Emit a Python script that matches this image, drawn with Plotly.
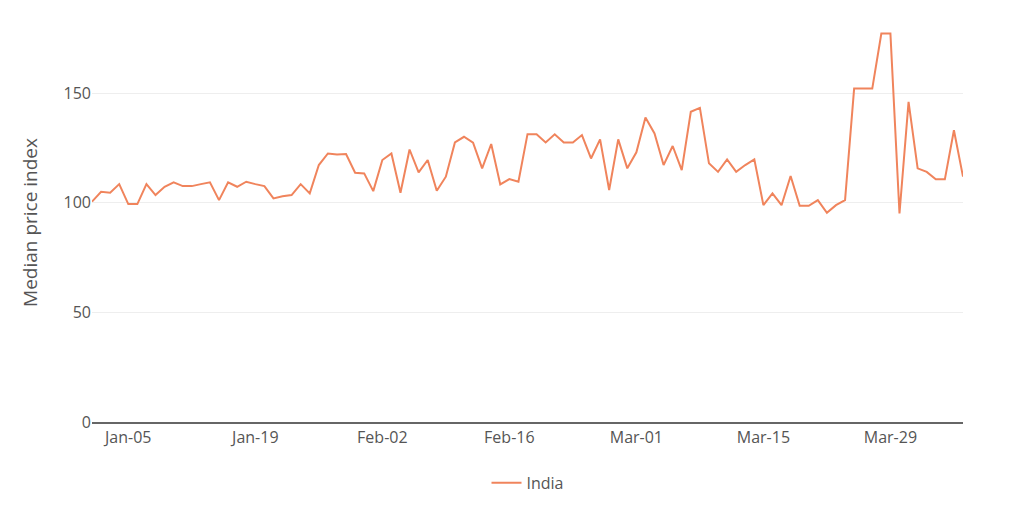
import plotly.graph_objects as go
import pandas as pd

start_date = "2020-01-01"
end_date = "2020-04-06"
dates = pd.date_range(start_date, end_date, freq="D")

india = [
    100.5, 105.0, 104.6, 108.5, 99.4, 99.4, 108.5, 103.5, 107.3, 109.3,
    107.6, 107.6, 108.5, 109.3, 101.2, 109.3, 107.3, 109.6, 108.5, 107.6,
    102.0, 103.0, 103.5, 108.5, 104.3, 117.2, 122.5, 122.0, 122.2, 113.7,
    113.4, 105.3, 119.5, 122.5, 104.6, 124.3, 113.9, 119.5, 105.5, 111.9,
    127.5, 130.1, 127.4, 115.7, 126.8, 108.4, 110.8, 109.6, 131.3, 131.3,
    127.5, 131.2, 127.5, 127.5, 130.9, 120.2, 128.9, 105.8, 128.9, 115.7,
    123.0, 138.9, 131.6, 117.2, 125.9, 114.9, 141.5, 143.3, 118.0, 114.1,
    119.8, 114.1, 117.2, 119.8, 98.9, 104.3, 98.9, 112.2, 98.6, 98.6,
    101.2, 95.4, 98.9, 101.2, 152.1, 152.1, 152.1, 177.2, 177.2, 95.1,
    146.0, 115.7, 114.1, 110.7, 110.7, 133.1, 111.9,
]

y_ticks = [0, 50, 100, 150]

fig = go.Figure()
fig.add_trace(go.Scatter(
    x=dates, y=india, mode="lines", name="India",
    line=dict(color="#f0845c", width=2),
))

fig.update_layout(
    width=1024, height=511,
    margin=dict(l=92, r=61, t=23, b=89, autoexpand=False),
    paper_bgcolor="white", plot_bgcolor="white",
    font=dict(family="Open Sans, DejaVu Sans, sans-serif", color="#555"),
    showlegend=True,
    legend=dict(orientation="h", x=0.5, xanchor="center",
                yref="container", y=0.055, yanchor="middle",
                font=dict(size=16, color="#555")),
    xaxis=dict(
        range=[dates[0], dates[-1]],
        tickformat="%b-%d", tick0="2020-01-05", dtick=14 * 86400000,
        showgrid=False, showline=True, linecolor="#666", linewidth=1.5,
        ticks="", tickfont=dict(size=16, color="#555"),
        zeroline=False, automargin=False,
    ),
    yaxis=dict(
        range=[0, 182], tickvals=y_ticks,
        showgrid=True, gridcolor="#eeeeee", gridwidth=1,
        zeroline=False, showline=False, ticks="",
        tickfont=dict(size=16, color="#555"), automargin=False,
        title=dict(text="Median price index", font=dict(size=19, color="#555"), standoff=20),
    ),
)

fig.write_html("out.html")
